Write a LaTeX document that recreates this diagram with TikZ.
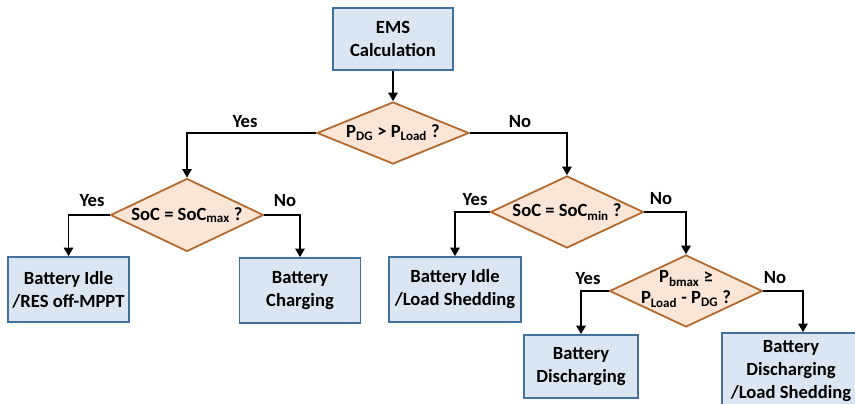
\documentclass[tikz,border=0pt]{standalone}
\usepackage{fontspec}
\setmainfont{Carlito}
\usepackage{xcolor}
\usepackage{tikz}
\usetikzlibrary{arrows.meta,calc,positioning,shapes.geometric}
\definecolor{emsboxfill}{HTML}{DCE6F2}
\definecolor{emsboxline}{HTML}{41719C}
\definecolor{emsdecfill}{HTML}{FBE5D6}
\definecolor{emsdecline}{HTML}{B4692E}

\begin{document}
\begin{tikzpicture}[
    x=1pt,
    y=-1pt,
    font=\bfseries\fontsize{18.6}{23}\selectfont,
    arrow/.style={-{Triangle[length=8.5pt,width=9.5pt]}, line width=1.4pt, draw=black},
    statebox/.style={rectangle, draw=emsboxline, fill=emsboxfill, line width=1.8pt, align=center, inner sep=0pt},
    decision/.style={diamond, draw=emsdecline, fill=emsdecfill, line width=1.8pt, inner sep=0pt},
    dectext/.style={align=center, inner sep=0pt},
    answer/.style={inner sep=0pt}
  ]
    \useasboundingbox (0,0) rectangle (855,404);

    \node[statebox, minimum width=120pt, minimum height=62pt] (ems) at (393,39) {EMS\\Calculation};

    % decisions
    \node[decision, minimum width=152pt, minimum height=62pt] (dec-pdg) at (393,133) {};
    \node[dectext] (T-pdg) at (dec-pdg) {P\textsubscript{DG} > P\textsubscript{Load} ?};

    \node[decision, minimum width=153pt, minimum height=73pt] (dec-max) at (187,215) {};
    \node[dectext] (T-max) at (dec-max) {SoC = SoC\textsubscript{max} ?};

    \node[decision, minimum width=153pt, minimum height=72pt] (dec-min) at (567,212) {};
    \node[dectext] (T-min) at (dec-min) {SoC = SoC\textsubscript{min} ?};

    \node[decision, minimum width=153pt, minimum height=72pt] (dec-bmax) at (686,291) {};
    \node[dectext] (T-bmax) at ($(dec-bmax)+(0,-2)$) {P\textsubscript{bmax} ≥\\[-2pt]P\textsubscript{Load} - P\textsubscript{DG} ?};

    % outcomes
    \node[statebox, minimum width=121pt, minimum height=65pt] (S-idle-res) at (68.5,289.5) {Battery Idle\\/RES off-MPPT};
    \node[statebox, minimum width=121pt, minimum height=65pt] (S-charge) at (300,290.5) {Battery\\Charging};
    \node[statebox, minimum width=132pt, minimum height=65pt] (S-idle-load) at (455,289.5) {Battery Idle\\/Load Shedding};
    \node[statebox, minimum width=114pt, minimum height=63pt] (S-discharge) at (581,366.5) {Battery\\Discharging};
    \node[statebox, minimum width=138pt, minimum height=77pt] (S-discharge-load) at (791,371.5) {Battery\\Discharging\\/Load Shedding};

    \draw[arrow] (ems) -- (dec-pdg);
    \draw[arrow] (dec-pdg.west) -| (dec-max.north);
    \draw[arrow] (dec-pdg.east) -| (dec-min.north);
    \draw[arrow] (dec-max.west) -| (S-idle-res.north);
    \draw[arrow] (dec-max.east) -| (S-charge.north);
    \draw[arrow] (dec-min.west) -| (S-idle-load.north);
    \draw[arrow] (dec-min.east) -| (dec-bmax.north);
    \draw[arrow] (dec-bmax.west) -| (S-discharge.north);
    \draw[arrow] (dec-bmax.east) -| ([xshift=12pt]S-discharge-load.north);

    \node[answer] (A-pdg-yes) at (245,122) {Yes};
    \node[answer] (A-pdg-no) at (520,122) {No};
    \node[answer] (A-max-yes) at (92,201) {Yes};
    \node[answer] (A-max-no) at (285,201) {No};
    \node[answer] (A-min-yes) at (475,200) {Yes};
    \node[answer] (A-min-no) at (661,199) {No};
    \node[answer] (A-bmax-yes) at (588,279) {Yes};
    \node[answer] (A-bmax-no) at (775,278) {No};

  \end{tikzpicture}
\end{document}
